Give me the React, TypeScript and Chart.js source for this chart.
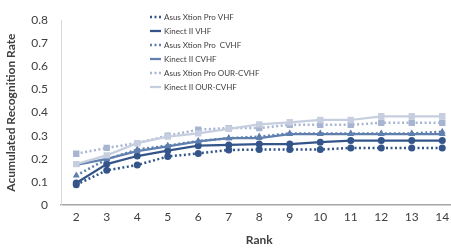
import React, { useEffect, useRef } from "react";
import { Chart, registerables } from "chart.js";

Chart.register(...registerables);

const ranks = ["2", "3", "4", "5", "6", "7", "8", "9", "10", "11", "12", "13", "14"];
const asusVHF = [0.088, 0.15, 0.173, 0.21, 0.223, 0.238, 0.24, 0.24, 0.24, 0.247, 0.247, 0.247, 0.247];
const kinectVHF = [0.095, 0.177, 0.212, 0.235, 0.257, 0.26, 0.264, 0.264, 0.272, 0.279, 0.279, 0.279, 0.279];
const asusCVHF = [0.128, 0.198, 0.24, 0.257, 0.277, 0.289, 0.296, 0.31, 0.31, 0.31, 0.31, 0.31, 0.317];
const kinectCVHF = [0.174, 0.2, 0.233, 0.254, 0.275, 0.289, 0.29, 0.307, 0.307, 0.307, 0.307, 0.307, 0.307];
const asusOUR = [0.222, 0.247, 0.268, 0.3, 0.326, 0.333, 0.333, 0.347, 0.347, 0.347, 0.356, 0.356, 0.356];
const kinectOUR = [0.177, 0.215, 0.268, 0.296, 0.31, 0.33, 0.349, 0.358, 0.368, 0.368, 0.384, 0.384, 0.384];
const seriesNames = [
  "Asus Xtion Pro VHF",
  "Kinect II VHF",
  "Asus Xtion Pro  CVHF",
  "Kinect II CVHF",
  "Asus Xtion Pro OUR-CVHF",
  "Kinect II OUR-CVHF",
];
const yTicks = [0, 0.1, 0.2, 0.3, 0.4, 0.5, 0.6, 0.7, 0.8];

const DARK = "#34558A";
const MID = "#5F7FAE";
const LIGHT1 = "#A8B5D1";
const LIGHT2 = "#C6CEDF";
const FONT = "Lato, 'Open Sans', 'Liberation Sans', sans-serif";

function drawLegend(ctx: CanvasRenderingContext2D, datasets: any[]) {
  const x0 = 150;
  const y0 = 17;
  const step = 14;
  ctx.save();
  datasets.forEach((ds: any, i: number) => {
    const y = y0 + i * step;
    ctx.beginPath();
    ctx.strokeStyle = ds.borderColor;
    ctx.lineWidth = ds.borderWidth;
    ctx.setLineDash(ds.borderDash || []);
    ctx.moveTo(x0, y);
    ctx.lineTo(x0 + 11, y);
    ctx.stroke();
    ctx.setLineDash([]);
    ctx.fillStyle = "#404040";
    ctx.font = "8px " + FONT;
    ctx.textBaseline = "middle";
    ctx.textAlign = "left";
    ctx.fillText(ds.label, x0 + 14, y);
  });
  ctx.restore();
}

export default function App() {
  const ref = useRef<HTMLCanvasElement | null>(null);
  useEffect(() => {
    if (!ref.current) return;
    const mk = (label: string, data: number[], color: string, dashed: boolean, style: string, r: number) => ({
      label,
      data,
      borderColor: color,
      backgroundColor: color,
      borderWidth: dashed ? 2.5 : 2.25,
      borderDash: dashed ? [2, 2.5] : [],
      pointStyle: style,
      pointRadius: r,
      pointBorderWidth: 0,
      pointBackgroundColor: color,
      tension: 0,
    });
    const datasets = [
      mk(seriesNames[5], kinectOUR, LIGHT2, false, "rect", 4.5),
      mk(seriesNames[4], asusOUR, LIGHT1, true, "rect", 4.5),
      mk(seriesNames[3], kinectCVHF, MID, false, "triangle", 4),
      mk(seriesNames[2], asusCVHF, MID, true, "triangle", 4),
      mk(seriesNames[1], kinectVHF, DARK, false, "circle", 3.5),
      mk(seriesNames[0], asusVHF, DARK, true, "circle", 3.5),
    ];
    const orderedForLegend = [...datasets].reverse();
    const chart = new Chart(ref.current, {
      type: "line",
      data: { labels: ranks, datasets },
      options: {
        animation: false,
        responsive: false,
        maintainAspectRatio: false,
        layout: { padding: { top: 13, left: 0, right: 0, bottom: 0 } },
        plugins: { legend: { display: false }, tooltip: { enabled: false } },
        scales: {
          x: {
            offset: true,
            grid: { display: false, drawTicks: false },
            border: { color: "#A6A6A6", width: 1.5 },
            ticks: { color: "#404040", font: { family: FONT, size: 12 }, padding: 5, maxRotation: 0, autoSkip: false },
            title: { display: true, text: "Rank", color: "#404040", font: { family: FONT, size: 12, weight: "bold" }, padding: { top: 4, bottom: 4 } },
            afterFit: (s: any) => { s.height = 46; },
          },
          y: {
            min: 0,
            max: 0.8,
            afterBuildTicks: (s: any) => { s.ticks = yTicks.map((v) => ({ value: v })); },
            grid: { display: false, drawTicks: false },
            border: { color: "#D9D9D9", width: 1 },
            ticks: { color: "#404040", font: { family: FONT, size: 12 }, padding: 13, callback: (v: any) => String(Math.round(v * 10) / 10) },
            title: { display: true, text: "Acumulated Recognition Rate", color: "#404040", font: { family: FONT, size: 12, weight: "bold" }, padding: { top: 4, bottom: 4 } },
            afterFit: (s: any) => { s.width = 61; },
          },
        },
      },
      plugins: [
        {
          id: "floatLegend",
          afterDraw(c: any) {
            drawLegend(c.ctx, orderedForLegend);
          },
        },
      ],
    } as any);
    return () => chart.destroy();
  }, []);
  return (
    <div style={{ position: "fixed", left: 0, top: 0, width: 451, height: 251, overflow: "hidden", background: "#fff" }}>
      <canvas ref={ref} width={462} height={251} style={{ display: "block", width: 462, height: 251 }} />
    </div>
  );
}
